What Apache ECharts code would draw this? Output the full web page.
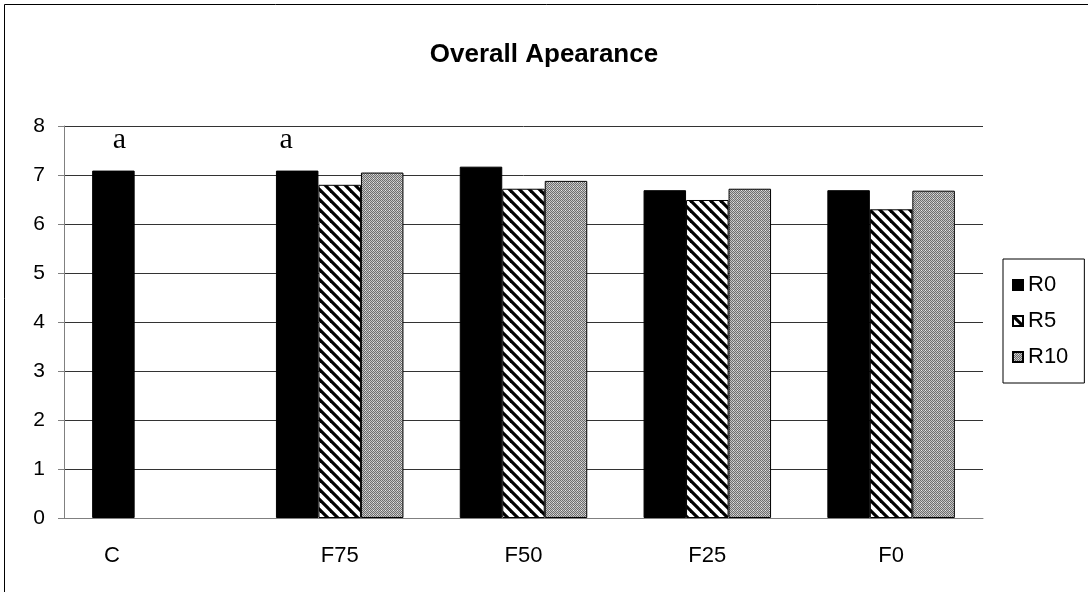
<!DOCTYPE html>
<html>
<head>
<meta charset="utf-8">
<script src="https://cdn.jsdelivr.net/npm/echarts@6/dist/echarts.min.js"></script>
<style>html,body{margin:0;padding:0;background:#fff;}#c{width:1088px;height:592px;}</style>
</head>
<body>
<div id="c"></div>
<script>
const categories = ['C', 'F75', 'F50', 'F25', 'F0'];
const r0 = [7.09, 7.09, 7.17, 6.69, 6.69];
const r5 = [null, 6.80, 6.72, 6.49, 6.30];
const r10 = [null, 7.05, 6.88, 6.72, 6.68];
const r0Letters = ['a', 'a', '', '', ''];
const yTicks = [0, 1, 2, 3, 4, 5, 6, 7, 8];

function stripePattern() {
  const c = document.createElement('canvas');
  c.width = 10; c.height = 10;
  const g = c.getContext('2d');
  g.fillStyle = '#fff'; g.fillRect(0, 0, 10, 10);
  g.strokeStyle = '#000'; g.lineWidth = 3.2;
  for (let k = -10; k <= 10; k += 10) {
    g.beginPath(); g.moveTo(k - 2, -2); g.lineTo(k + 12, 12); g.stroke();
  }
  return c;
}
function checkPattern() {
  const c = document.createElement('canvas');
  c.width = 4; c.height = 4;
  const g = c.getContext('2d');
  for (let x = 0; x < 4; x++) for (let y = 0; y < 4; y++) {
    g.fillStyle = ((x + y) % 2 === 0) ? '#6e6e6e' : '#c4c4c4';
    g.fillRect(x, y, 1, 1);
  }
  g.fillStyle = '#e8e8e8'; g.fillRect(1, 2, 1, 1);
  return c;
}

const FONT = 'Liberation Sans, Arial';
const chart = echarts.init(document.getElementById('c'), null, {renderer: 'canvas'});
const barCommon = {type: 'bar', barWidth: 42.5, barGap: '0%'};
const offsets = [[6, 0], [-11, 0]];
chart.setOption({
  animation: false,
  backgroundColor: '#fff',
  title: {
    text: 'Overall Apearance', left: 'center', top: 37,
    textStyle: {fontFamily: FONT, fontWeight: 'bold', fontSize: 26, color: '#000'}
  },
  graphic: [{
    type: 'rect', silent: true, z: -1,
    shape: {x: 4.5, y: 4.5, width: 1200, height: 700},
    style: {fill: 'none', stroke: '#000', lineWidth: 1}
  }],
  legend: {
    orient: 'vertical', left: 1003, top: 259,
    data: ['R0', 'R5', 'R10'],
    itemWidth: 10, itemHeight: 10, itemGap: 14, icon: 'rect',
    padding: [15, 16, 15, 9],
    borderColor: '#000', borderWidth: 1,
    textStyle: {fontFamily: FONT, fontSize: 22, color: '#000'}
  },
  grid: {left: 64, right: 105, top: 126, bottom: 74, containLabel: false},
  xAxis: {
    type: 'category', data: categories,
    axisLine: {lineStyle: {color: '#808080', width: 1}},
    axisTick: {length: 6, lineStyle: {color: '#808080'}},
    axisLabel: {
      margin: 27, fontFamily: FONT, fontSize: 22, color: '#000',
      formatter: function (v) { return v === 'C' ? '{c|' + v + '}' : v; },
      rich: {c: {fontFamily: FONT, fontSize: 22, color: '#000', padding: [0, 88, 0, 0]}}
    }
  },
  yAxis: {
    type: 'value', min: yTicks[0], max: yTicks[yTicks.length - 1], interval: 1,
    axisLine: {show: true, lineStyle: {color: '#808080', width: 1}},
    axisTick: {show: true, length: 6, lineStyle: {color: '#808080'}},
    splitLine: {lineStyle: {color: '#333', width: 1}},
    axisLabel: {margin: 19, fontFamily: FONT, fontSize: 21, color: '#000'}
  },
  series: [
    Object.assign({}, barCommon, {
      name: 'R0', itemStyle: {color: '#000', borderColor: '#000', borderWidth: 1},
      data: r0.map(function (v, i) {
        const d = {value: v};
        if (r0Letters[i]) {
          d.label = {show: true, position: 'top', distance: 15, offset: offsets[i] || [0, 0],
            formatter: r0Letters[i], fontFamily: 'Liberation Serif, Times New Roman', fontSize: 30, color: '#000'};
        }
        return d;
      })
    }),
    Object.assign({}, barCommon, {
      name: 'R5', itemStyle: {color: {image: stripePattern(), repeat: 'repeat'}, borderColor: '#000', borderWidth: 1},
      data: r5
    }),
    Object.assign({}, barCommon, {
      name: 'R10', itemStyle: {color: {image: checkPattern(), repeat: 'repeat'}, borderColor: '#000', borderWidth: 1},
      data: r10
    })
  ]
});
</script>
</body>
</html>
